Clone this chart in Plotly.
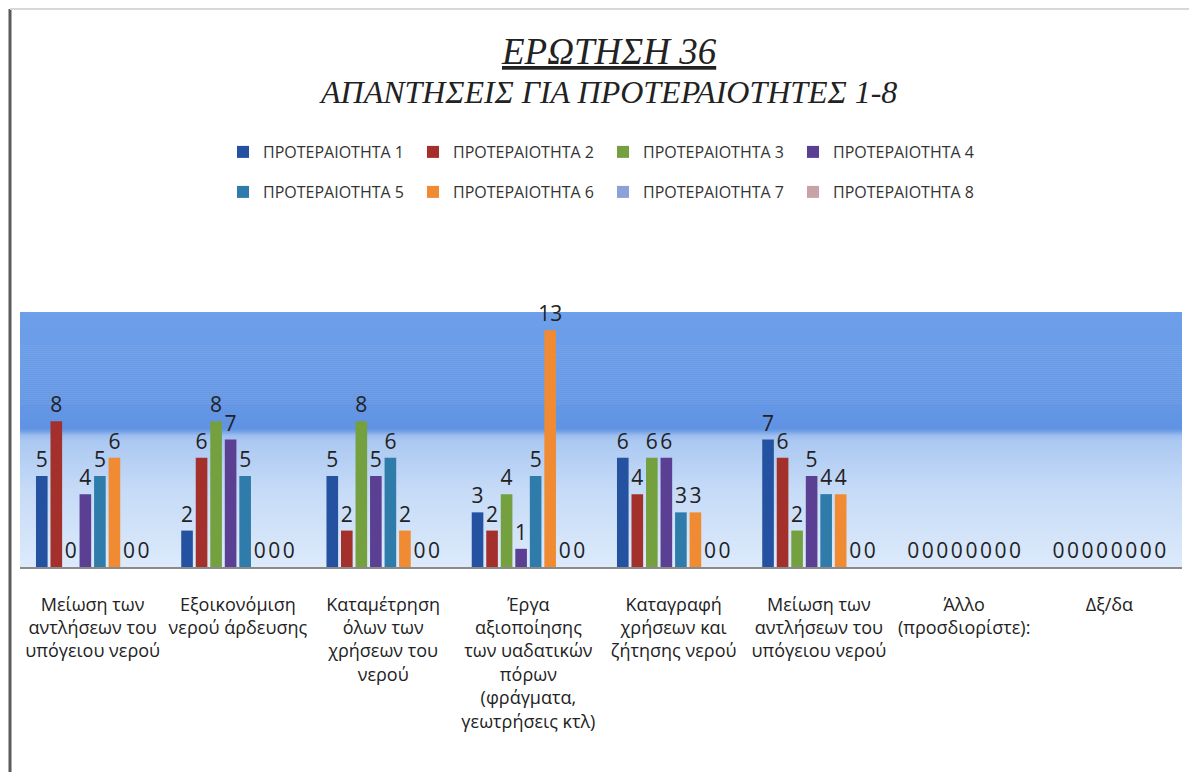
import plotly.graph_objects as go

categories = [
    "Μείωση των<br>αντλήσεων του<br>υπόγειου νερού",
    "Εξοικονόμιση<br>νερού άρδευσης",
    "Καταμέτρηση<br>όλων των<br>χρήσεων του<br>νερού",
    "Έργα<br>αξιοποίησης<br>των υαδατικών<br>πόρων<br>(φράγματα,<br>γεωτρήσεις κτλ)",
    "Καταγραφή<br>χρήσεων και<br>ζήτησης νερού",
    "Μείωση των<br>αντλήσεων του<br>υπόγειου νερού",
    "Άλλο<br>(προσδιορίστε):",
    "Δξ/δα",
]
positions = list(range(len(categories)))

series_names = [f"ΠΡΟΤΕΡΑΙΟΤΗΤΑ {i}" for i in range(1, 9)]
p1 = [5, 2, 5, 3, 6, 7, 0, 0]
p2 = [8, 6, 2, 2, 4, 6, 0, 0]
p3 = [0, 8, 8, 4, 6, 2, 0, 0]
p4 = [4, 7, 5, 1, 6, 5, 0, 0]
p5 = [5, 5, 6, 5, 3, 4, 0, 0]
p6 = [6, 0, 2, 13, 3, 4, 0, 0]
p7 = [0, 0, 0, 0, 0, 0, 0, 0]
p8 = [0, 0, 0, 0, 0, 0, 0, 0]
series_values = [p1, p2, p3, p4, p5, p6, p7, p8]

colors = ["#2452A0", "#A3302B", "#74A040", "#5A3F93",
          "#2F7BAA", "#F08B33", "#8BA2D6", "#C9A2A8"]

W, H = 1197, 772
O = 8  # page body offset
L, T = 20 - O, 312 - O
plot_w, plot_h = 1162, 255
R = W - L - plot_w
B = H - T - plot_h


def px_x(p):
    return (p - O - L) / plot_w


def px_y(p):
    return (T + plot_h - (p - O)) / plot_h


fig = go.Figure()
for i, (name, vals) in enumerate(zip(series_names, series_values)):
    fig.add_trace(go.Bar(
        x=positions, y=vals, name=name,
        marker=dict(color=colors[i], line=dict(width=0)),
        text=vals, texttemplate="%{y}", textposition="outside",
        constraintext="none", cliponaxis=False,
        textfont=dict(family="Open Sans", size=21, color="#222222"),
        legend="legend" if i < 4 else "legend2",
    ))

# background gradient
stops = [
    (0.00, (0xDC, 0xEA, 0xFB)),
    (0.30, (0xC6, 0xDB, 0xF7)),
    (0.49, (0xAC, 0xC9, 0xF2)),
    (0.515, (0x9E, 0xBF, 0xEF)),
    (0.54, (0x60, 0x93, 0xE3)),
    (0.70, (0x67, 0x99, 0xE6)),
    (1.00, (0x6E, 0x9F, 0xE9)),
]


def col_at(f):
    for (a, ca), (b, cb) in zip(stops[:-1], stops[1:]):
        if a <= f <= b:
            t = (f - a) / (b - a) if b > a else 0
            c = [round(ca[k] + (cb[k] - ca[k]) * t) for k in range(3)]
            return "rgb(%d,%d,%d)" % tuple(c)
    return "rgb(%d,%d,%d)" % stops[-1][1]


n = 128
shapes = []
for k in range(n):
    y0 = k / n
    y1 = (k + 1) / n + 0.002
    shapes.append(dict(type="rect", xref="paper", yref="paper",
                       x0=0, x1=1, y0=y0, y1=min(y1, 1),
                       fillcolor=col_at((k + 0.5) / n), line=dict(width=0),
                       layer="below"))
# frame lines
shapes.append(dict(type="line", xref="paper", yref="paper",
                   x0=px_x(10), x1=px_x(10), y0=px_y(9), y1=px_y(780),
                   line=dict(color="#5a5a5a", width=3)))
shapes.append(dict(type="line", xref="paper", yref="paper",
                   x0=px_x(10), x1=px_x(1192), y0=px_y(9), y1=px_y(9),
                   line=dict(color="#d8d8d8", width=2)))

legend_font = dict(family="Open Sans", size=16, color="#333333")

fig.update_layout(
    width=W, height=H,
    margin=dict(l=L, r=R, t=T, b=B),
    paper_bgcolor="white", plot_bgcolor="rgba(0,0,0,0)",
    barmode="group", bargap=0.2, bargroupgap=0.2,
    shapes=shapes,
    xaxis=dict(tickmode="array", tickvals=positions, ticktext=categories,
               range=[-0.5, len(categories) - 0.5],
               showline=True, linecolor="#8a8a8a", linewidth=2,
               showgrid=False, zeroline=False, ticks="",
               tickangle=0, ticklabelstandoff=20,
               tickfont=dict(family="Open Sans", size=18, color="#222222")),
    yaxis=dict(range=[0, 14], visible=False, showgrid=False, zeroline=False),
    legend=dict(orientation="h", xref="container", yref="container",
                x=(223 - O) / W, y=1 - (152 - O) / H,
                xanchor="left", yanchor="middle",
                font=legend_font, bgcolor="rgba(0,0,0,0)",
                itemwidth=30, entrywidth=145),
    legend2=dict(orientation="h", xref="container", yref="container",
                 x=(223 - O) / W, y=1 - (192 - O) / H,
                 xanchor="left", yanchor="middle",
                 font=legend_font, bgcolor="rgba(0,0,0,0)",
                 itemwidth=30, entrywidth=145),
    annotations=[
        dict(text="<i><u>ΕΡΩΤΗΣΗ 36</u></i>", xref="paper", yref="paper",
             x=px_x(609), y=px_y(51), showarrow=False,
             xanchor="center", yanchor="middle",
             font=dict(family="Liberation Serif", size=37, color="#222222")),
        dict(text="<i>ΑΠΑΝΤΗΣΕΙΣ ΓΙΑ ΠΡΟΤΕΡΑΙΟΤΗΤΕΣ 1-8</i>", xref="paper",
             yref="paper", x=px_x(608), y=px_y(92), showarrow=False,
             xanchor="center", yanchor="middle",
             font=dict(family="Liberation Serif", size=32, color="#222222")),
    ],
)

fig.write_html("out.html")
